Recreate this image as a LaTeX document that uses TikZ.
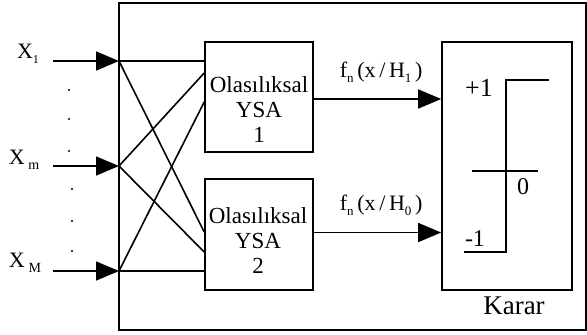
\documentclass[tikz,border=0pt]{standalone}
\usepackage{fontspec}
\setmainfont{Liberation Serif}
\usetikzlibrary{arrows.meta}
\newcommand{\alt}[2][12]{\raisebox{-0.25em}{\fontsize{#1}{#1}\selectfont #2}}
\begin{document}
\begin{tikzpicture}[x=1pt,y=-1pt,line width=1.6pt,
  blok/.style={draw,minimum width=108pt,minimum height=110pt,inner sep=0pt},
  ok/.style={-{Triangle[length=23pt,width=19pt]}},
  giris/.style={inner sep=0pt,font=\fontsize{22}{24}\selectfont},
  yazi/.style={inner sep=0pt,align=center,font=\fontsize{23}{25}\selectfont},
  fyazi/.style={inner sep=0pt,anchor=base west,font=\fontsize{22}{24}\selectfont}]
\useasboundingbox (0,0) rectangle (587,335);
\draw (119,3) rectangle (586,330);
% girisler
\node[giris] (x1) at (28,54) {X\alt{1}};
\node[giris] (xm) at (24,160) {X\,\alt[14]{m}};
\node[giris] (xM) at (25,263) {X\,\alt[14]{M}};
\coordinate (i1) at (53,61);
\coordinate (im) at (53,166);
\coordinate (iM) at (53,271);
\coordinate (j1) at (119,61);
\coordinate (jm) at (119,166);
\coordinate (jM) at (119,271);
\draw[ok] (i1) -- (j1);
\draw[ok] (im) -- (jm);
\draw[ok] (iM) -- (jM);
\foreach \y in {90,119,151} \fill (69,\y) circle (1.1);
\foreach \y in {189,221,251} \fill (72,\y) circle (1.1);
% YSA kutulari
\node[blok] (ysa1) at (259,97) {};
\node[blok,minimum height=111pt] (ysa2) at (259,234.5) {};
\node[yazi] (t1) at (259,110) {Olasılıksal\\YSA\\1};
\node[yazi] (t2) at (258,241) {Olasılıksal\\YSA\\2};
\draw (j1) -- (ysa1.west |- j1);
\draw (j1) -- ([yshift=2.5pt]ysa2.west);
\draw (jm) -- ([yshift=24pt]ysa1.west);
\draw (jm) -- ([yshift=-17.5pt]ysa2.west);
\draw (jM) -- ([yshift=-5pt]ysa1.west);
\draw (jM) -- (ysa2.west |- jM);
% karar
\node[blok,minimum width=130pt,minimum height=248pt] (karar) at (507,166) {};
\node[yazi,font=\fontsize{27}{29}\selectfont] (kl) at (514,306) {Karar};
\coordinate (c1) at ([yshift=-2pt]ysa1.east);
\coordinate (c2) at ([yshift=2pt]ysa2.east);
\draw[ok] (c1) -- (karar.west |- c1);
\draw[ok] (c2) -- (karar.west |- c2);
\node[fyazi] (f1) at (339,77) {f\alt[13]{n}\,(x\,/\,H\alt[13]{1}\,)};
\node[fyazi] (f0) at (339,210) {f\alt[13]{n}\,(x\,/\,H\alt[13]{0}\,)};
\coordinate (s1) at (549,80);
\coordinate (s2) at (506,80);
\coordinate (s3) at (506,252);
\coordinate (s4) at (464,252);
\draw[line width=1.3pt] (s1) -- (s2) -- (s3) -- (s4);
\coordinate (o1) at (472,171);
\coordinate (o2) at (538,171);
\draw[line width=1.3pt] (o1) -- (o2);
\node[yazi,font=\fontsize{26}{28}\selectfont] (p1) at (479,88) {+1};
\node[yazi,font=\fontsize{24}{26}\selectfont] (z0) at (523,187) {0};
\node[yazi,font=\fontsize{24}{26}\selectfont] (m1) at (475,239) {-1};
\end{tikzpicture}
\end{document}
